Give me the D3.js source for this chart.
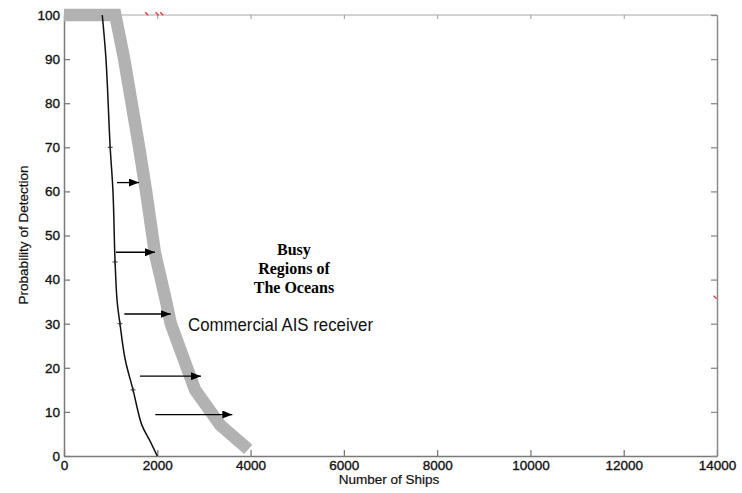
<!DOCTYPE html>
<html><head><meta charset="utf-8">
<script src="https://cdn.jsdelivr.net/npm/d3@7"></script>
<style>html,body{margin:0;padding:0;background:#fff;}svg{display:block;}</style>
</head><body><svg id="c" width="742" height="493"></svg>
<script>
// ---- data ----
const xTicks = [0, 2000, 4000, 6000, 8000, 10000, 12000, 14000];
const yTicks = [0, 10, 20, 30, 40, 50, 60, 70, 80, 90, 100];
// thin black curve (baseline receiver)
const baseX = [820, 900, 990, 1050, 1095, 1140, 1200, 1310, 1480, 1670, 1840, 2000];
const baseY = [100, 90, 70, 60, 44, 35, 30, 22, 15, 7, 3.5, 0];
const baseMarkers = [70, 44, 30, 15];
// thick grey curve (commercial AIS receiver)
const aisX = [0, 1100, 1290, 1610, 1760, 1950, 2190, 2290, 2810, 3350, 3950];
const aisY = [100, 100, 90, 70, 60, 46, 35, 30, 15, 7, 1.5];
// arrows: [fromX, toX, y]
const arrowFrom = [1136, 1115, 1293, 1630, 1958];
const arrowTo = [1608, 1950, 2287, 2937, 3609];
const arrowY = [62, 46.2, 32.2, 18.1, 9.4];
// stray red marks
const redX = [1773, 1994, 2095, 13960];
const redY = [100.3, 100.3, 100.3, 36];
const busyLines = ["Busy", "Regions of", "The Oceans"];

const svg = d3.select("#c");
const x = d3.scaleLinear().domain([0, 14000]).range([64, 717]);
const y = d3.scaleLinear().domain([0, 100]).range([456, 15]);

// frame
svg.append("line").attr("x1", 64).attr("x2", 717).attr("y1", y(100)).attr("y2", y(100))
  .attr("stroke", "#c4c4c4").attr("stroke-width", 1.5);

const tickFont = "13.5px 'Liberation Sans', Arial, sans-serif";
function styleAxis(g, col) {
  g.select(".domain").attr("stroke", col).attr("stroke-width", 1.5);
  g.selectAll(".tick line").attr("stroke", col).attr("stroke-width", 1.3);
  g.selectAll("text").style("font", tickFont).attr("fill", "#111")
    .attr("stroke", "#111").attr("stroke-width", 0.35);
}
const gx = svg.append("g").attr("transform", "translate(0,456)")
  .call(d3.axisBottom(x).tickValues(xTicks).tickSizeInner(-6).tickSizeOuter(0).tickPadding(4).tickFormat(d3.format("d")));
styleAxis(gx, "#7a7a7a");
const gy = svg.append("g").attr("transform", "translate(64,0)")
  .call(d3.axisLeft(y).tickValues(yTicks).tickSizeInner(-6).tickSizeOuter(0).tickPadding(4).tickFormat(d3.format("d")));
styleAxis(gy, "#7a7a7a");
const gr = svg.append("g").attr("transform", "translate(717,0)")
  .call(d3.axisRight(y).tickValues(yTicks).tickSizeInner(-6).tickSizeOuter(0).tickFormat(""));
styleAxis(gr, "#8a8a8a");
const gt = svg.append("g").attr("transform", "translate(0," + y(100) + ")")
  .call(d3.axisTop(x).tickValues(xTicks).tickSizeInner(-4).tickSizeOuter(0).tickFormat(""));
gt.select(".domain").remove();
gt.selectAll(".tick line").attr("stroke", "#999");

// axis titles
svg.append("text").attr("x", 389).attr("y", 484).attr("text-anchor", "middle")
  .style("font", "13.5px 'Liberation Sans', Arial, sans-serif").attr("fill", "#111")
  .attr("stroke", "#111").attr("stroke-width", 0.2).text("Number of Ships");
svg.append("text").attr("transform", "translate(28,235) rotate(-90)").attr("text-anchor", "middle")
  .style("font", "13.5px 'Liberation Sans', Arial, sans-serif").attr("fill", "#111")
  .attr("stroke", "#111").attr("stroke-width", 0.2).text("Probability of Detection");

// thick grey line
const aisData = aisX.map((d, i) => [d, aisY[i]]);
svg.append("path").datum(aisData)
  .attr("d", d3.line().x(d => x(d[0])).y(d => y(d[1])))
  .attr("fill", "none").attr("stroke", "#b2b2b2").attr("stroke-width", 12.5)
  .attr("stroke-linejoin", "miter").attr("stroke-linecap", "butt");

// thin black line
const baseData = baseX.map((d, i) => [d, baseY[i]]);
svg.append("path").datum(baseData)
  .attr("d", d3.line().x(d => x(d[0])).y(d => y(d[1])).curve(d3.curveCatmullRom))
  .attr("fill", "none").attr("stroke", "#111").attr("stroke-width", 1.5);
svg.append("g").selectAll("path").data(baseData.filter(d => baseMarkers.includes(d[1])))
  .join("path")
  .attr("d", d => { const px = x(d[0]), py = y(d[1]); return `M${px-2.5},${py}H${px+2.5}M${px},${py-2.5}V${py+2.5}`; })
  .attr("stroke", "#333").attr("stroke-width", 1);

// arrows
svg.append("defs").append("marker").attr("id", "ah").attr("viewBox", "0 0 10 8")
  .attr("refX", 10).attr("refY", 4).attr("markerWidth", 10).attr("markerHeight", 8)
  .attr("markerUnits", "userSpaceOnUse").attr("orient", "auto")
  .append("path").attr("d", "M0,0L10,4L0,8Z").attr("fill", "#000");
svg.append("g").selectAll("line").data(arrowY).join("line")
  .attr("x1", (d, i) => x(arrowFrom[i])).attr("x2", (d, i) => x(arrowTo[i]))
  .attr("y1", d => y(d)).attr("y2", d => y(d))
  .attr("stroke", "#000").attr("stroke-width", 1.3).attr("marker-end", "url(#ah)");

// red stray marks
svg.append("g").selectAll("path").data(redX).join("path")
  .attr("d", (d, i) => { const px = x(d), py = y(redY[i]); return `M${px-1.5},${py-1.5}L${px+1.5},${py+1.5}`; })
  .attr("stroke", "#e53030").attr("stroke-width", 1.3);

// annotations
svg.append("g").selectAll("text").data(busyLines).join("text")
  .attr("x", x(4930)).attr("y", (d, i) => 255 + i * 19).attr("text-anchor", "middle")
  .style("font", "bold 16px 'Liberation Serif', 'Times New Roman', serif").attr("fill", "#000")
  .text(d => d);
svg.append("text").attr("x", 188).attr("y", 331)
  .attr("textLength", 185).attr("lengthAdjust", "spacingAndGlyphs")
  .style("font", "18px 'Liberation Sans', Arial, sans-serif").attr("fill", "#111")
  .text("Commercial AIS receiver");
</script></body></html>
